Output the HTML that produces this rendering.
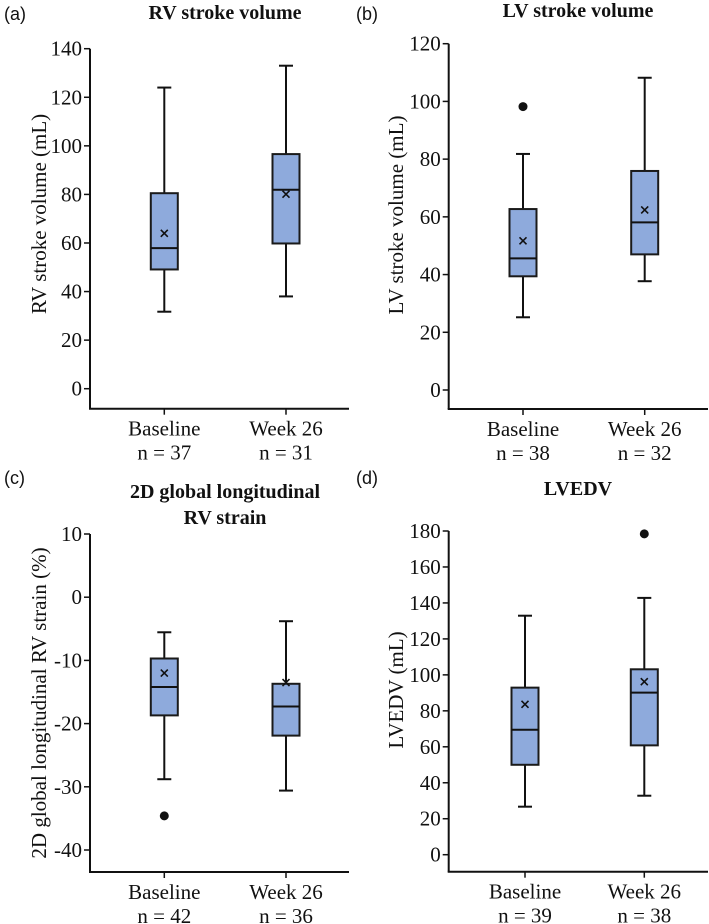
<!DOCTYPE html>
<html><head><meta charset="utf-8"><style>
html,body{margin:0;padding:0;background:#fff;}
svg{display:block;}
</style></head><body>
<svg id="c" width="709" height="924" viewBox="0 0 709 924"></svg>
<script>
const categories = ["Baseline", "Week 26"];
// (a) RV stroke volume
const rvN = [37, 31];
const rvMin = [31.7, 38];
const rvQ1 = [49.1, 59.8];
const rvMed = [57.9, 81.9];
const rvQ3 = [80.5, 96.6];
const rvMax = [124, 133];
const rvMean = [64, 80.1];
const rvOut = [[], []];
const rvTicks = [0, 20, 40, 60, 80, 100, 120, 140];
// (b) LV stroke volume
const lvN = [38, 32];
const lvMin = [25.2, 37.7];
const lvQ1 = [39.4, 47];
const lvMed = [45.6, 58.1];
const lvQ3 = [62.7, 75.9];
const lvMax = [81.8, 108.2];
const lvMean = [51.7, 62.4];
const lvOut = [[98.2], []];
const lvTicks = [0, 20, 40, 60, 80, 100, 120];
// (c) 2D GLS RV strain
const glsN = [42, 36];
const glsMin = [-28.8, -30.6];
const glsQ1 = [-18.7, -21.9];
const glsMed = [-14.2, -17.3];
const glsQ3 = [-9.7, -13.7];
const glsMax = [-5.55, -3.8];
const glsMean = [-12.0, -13.5];
const glsOut = [[-34.6], []];
const glsTicks = [-40, -30, -20, -10, 0, 10];
// (d) LVEDV
const edvN = [39, 38];
const edvMin = [26.7, 32.8];
const edvQ1 = [50, 60.8];
const edvMed = [69.5, 90.1];
const edvQ3 = [92.9, 103.1];
const edvMax = [132.9, 142.8];
const edvMean = [83.6, 96.2];
const edvOut = [[], [178.4]];
const edvTicks = [0, 20, 40, 60, 80, 100, 120, 140, 160, 180];

const svg = document.getElementById('c');
const NS = 'http://www.w3.org/2000/svg';
const SERIF = "font-family:'Liberation Serif',serif;fill:#111;";
const SANS = "font-family:'Liberation Sans',sans-serif;fill:#111;";
function mk(tag, attrs, parent, txt) {
  const e = document.createElementNS(NS, tag);
  for (const k in attrs) e.setAttribute(k, attrs[k]);
  if (txt !== undefined) e.textContent = txt;
  (parent || svg).appendChild(e);
  return e;
}

function panel(o) {
  const g = mk('g', {});
  
  
  const tmin = o.ticks[0], tmax = o.ticks[o.ticks.length - 1];
  const y = v => o.y0 + (v - tmin) / (tmax - tmin) * (o.y1 - o.y0);
  const xs = o.cx;
  let t = mk('text', {x: o.lx, y: o.ly, style: SANS + 'font-size:18px;'}, g, o.letter);
  
  
  o.title.forEach((line, i) => {
    const tt = mk('text', {x: o.tx, y: o.ty + i * 26, style: SERIF + 'font-size:20px;font-weight:bold;', 'text-anchor': 'middle'}, g, line);
    
    
  });
  const ya = mk('line', {x1: o.ax, x2: o.ax, y1: y(tmax), y2: o.axy, stroke: '#111', 'stroke-width': 2}, g);
  
  
  const xa = mk('line', {x1: o.ax - 1, x2: o.axr, y1: o.axy, y2: o.axy, stroke: '#111', 'stroke-width': 2}, g);
  
  
  o.ticks.forEach(v => {
    const tl = mk('line', {x1: o.ax - 6, x2: o.ax, y1: y(v), y2: y(v), stroke: '#111', 'stroke-width': 1.5}, g);
    
    
    const tx = mk('text', {x: o.ax - 8, y: y(v) + 7, style: SERIF + 'font-size:21px;', 'text-anchor': 'end'}, g, String(v));
    
    
  });
  const yl = mk('text', {x: 0, y: 0, style: SERIF + 'font-size:21px;', 'text-anchor': 'middle', transform: `translate(${o.ylx},${o.yly}) rotate(-90)`}, g, o.ylabel);
  
  
  categories.forEach((c, i) => {
    const cx = xs[i];
    const xt = mk('line', {x1: cx, x2: cx, y1: o.axy, y2: o.axy + 6, stroke: '#111', 'stroke-width': 1.5}, g);
    
    
    const l1 = mk('text', {x: cx, y: o.axy + 27, style: SERIF + 'font-size:21px;', 'text-anchor': 'middle'}, g, c);
    
    
    const l2 = mk('text', {x: cx, y: o.axy + 51, style: SERIF + 'font-size:21px;', 'text-anchor': 'middle'}, g, 'n = ' + o.n[i]);
    
    
    const w = mk('line', {x1: cx, x2: cx, y1: y(o.min[i]), y2: y(o.max[i]), stroke: '#111', 'stroke-width': 2}, g);
    
    
    [o.min[i], o.max[i]].forEach(v => {
      const cap = mk('line', {x1: cx - 7, x2: cx + 7, y1: y(v), y2: y(v), stroke: '#111', 'stroke-width': 2}, g);
      
      
    });
    const b = mk('rect', {x: cx - 13.5, y: y(o.q3[i]), width: 27, height: y(o.q1[i]) - y(o.q3[i]), fill: '#8eaadc', stroke: '#1a1a1a', 'stroke-width': 2}, g);
    
    
    const m = mk('line', {x1: cx - 13.5, x2: cx + 13.5, y1: y(o.med[i]), y2: y(o.med[i]), stroke: '#111', 'stroke-width': 2}, g);
    
    
    const my = y(o.mean[i]);
    const mx = mk('path', {d: `M${cx-3.5},${my-3.5}L${cx+3.5},${my+3.5}M${cx+3.5},${my-3.5}L${cx-3.5},${my+3.5}`, stroke: '#111', 'stroke-width': 1.6, fill: 'none'}, g);
    
    
    o.out[i].forEach(v => {
      const d = mk('circle', {cx: cx, cy: y(v), r: 4.5, fill: '#111'}, g);
      
      
    });
  });
}

panel({name: 'panel-a-rv-stroke-volume', letter: '(a)', lx: 4, ly: 20, title: ['RV stroke volume'], tx: 225, ty: 19,
  ticks: rvTicks, y0: 388.7, y1: 48.7, ax: 90, axy: 408.7, axr: 349, cx: [164.3, 286], ylabel: 'RV stroke volume (mL)', ylx: 46, yly: 214,
  n: rvN, min: rvMin, q1: rvQ1, med: rvMed, q3: rvQ3, max: rvMax, mean: rvMean, out: rvOut});
panel({name: 'panel-b-lv-stroke-volume', letter: '(b)', lx: 356, ly: 20, title: ['LV stroke volume'], tx: 578, ty: 17,
  ticks: lvTicks, y0: 390, y1: 43.7, ax: 448.7, axy: 409, axr: 708, cx: [523, 644.7], ylabel: 'LV stroke volume (mL)', ylx: 403, yly: 215,
  n: lvN, min: lvMin, q1: lvQ1, med: lvMed, q3: lvQ3, max: lvMax, mean: lvMean, out: lvOut});
panel({name: 'panel-c-gls-rv-strain', letter: '(c)', lx: 4, ly: 484, title: ['2D global longitudinal', 'RV strain'], tx: 225, ty: 498,
  ticks: glsTicks, y0: 850, y1: 534, ax: 90, axy: 872, axr: 349, cx: [164.3, 286], ylabel: '2D global longitudinal RV strain (%)', ylx: 46, yly: 703,
  n: glsN, min: glsMin, q1: glsQ1, med: glsMed, q3: glsQ3, max: glsMax, mean: glsMean, out: glsOut});
panel({name: 'panel-d-lvedv', letter: '(d)', lx: 356, ly: 484, title: ['LVEDV'], tx: 578, ty: 495,
  ticks: edvTicks, y0: 854.7, y1: 531, ax: 448.7, axy: 871.7, axr: 708, cx: [525, 644.3], ylabel: 'LVEDV (mL)', ylx: 403, yly: 690,
  n: edvN, min: edvMin, q1: edvQ1, med: edvMed, q3: edvQ3, max: edvMax, mean: edvMean, out: edvOut});
</script>
</body></html>
